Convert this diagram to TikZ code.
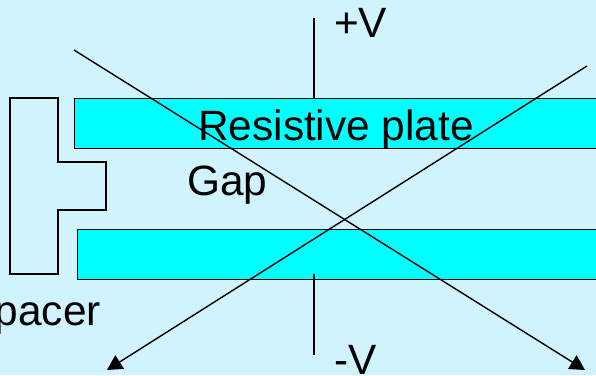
\documentclass[tikz,border=0pt]{standalone}
\usepackage{fontspec}
\setmainfont{Liberation Sans}
\usepackage{tikz}
\usetikzlibrary{arrows.meta}
\definecolor{bgblue}{RGB}{208,243,254}
\definecolor{platecyan}{RGB}{0,255,255}
\tikzstyle{plate}=[draw=black, fill=platecyan, line width=1.4pt, minimum height=49.5pt, minimum width=540pt, inner sep=0pt, anchor=north west]
\tikzstyle{lbl}=[anchor=base west, inner sep=0pt, font=\fontsize{42.4}{50}\selectfont]
\tikzstyle{ray}=[line width=1.4pt, -{Triangle[length=15pt,width=16pt]}]
\begin{document}
\begin{tikzpicture}
        [x=1pt,y=-1pt]
            \fill [bgblue] (0,0) rectangle (596,375) ;
            \clip (0,0) rectangle (596,375) ;
            \node [plate] (topplate) at (74,98) {} ;
            \node [plate] (botplate) at (77,229) {} ;
            \draw [line width=1.2pt] (10,98) -- (58,98) -- (58,162) -- (106,162) -- (106,210) -- (58,210) -- (58,274) -- (10,274) -- cycle ;
            \coordinate (plus) at (314,18) ;
            \coordinate (minus) at (314,355) ;
            \coordinate (minusend) at (314,274) ;
            \coordinate (rayastart) at (74,50) ;
            \coordinate (rayaend) at (585,370) ;
            \coordinate (raybstart) at (587,66) ;
            \coordinate (raybend) at (107,370) ;
            \draw [line width=1.2pt] (plus) -- (plus |- topplate.north) ;
            \draw [line width=1.2pt] (minusend) -- (minus) ;
            \draw [ray] (rayastart) -- (rayaend) ;
            \draw [ray] (raybstart) -- (raybend) ;
            \node [lbl] (resistive) at (198,140) {Resistive plate} ;
            \node [lbl] (gap) at (187,195) {Gap} ;
            \node [lbl] (pluslabel) at (334,37) {+V} ;
            \node [lbl] (minuslabel) at (334,374) {-V} ;
            \node [lbl, anchor=base east] (spacer) at (101,325) {Spacer} ;
        \end{tikzpicture}
\end{document}
